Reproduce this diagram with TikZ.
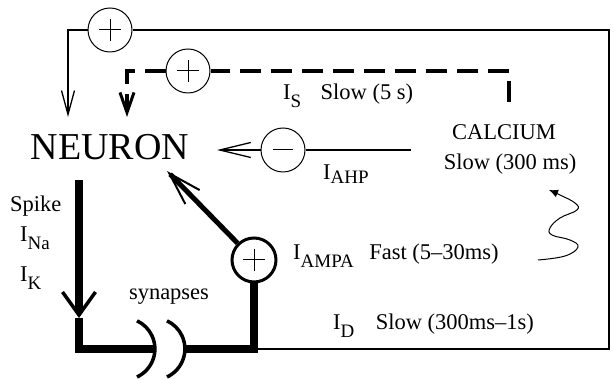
\documentclass[tikz,border=0pt]{standalone}
\usepackage{fontspec}
\setmainfont{Liberation Serif}
\usetikzlibrary{arrows.meta,positioning,calc}

% lowered subscript, as in the figure
\newcommand{\sub}[2][-8pt]{\raisebox{#1}{\fontsize{19}{19}\selectfont #2}}

\begin{document}
\begin{tikzpicture}[
  x=1pt, y=1pt,
  lbl/.style={font=\fontsize{22.5}{26}\selectfont, inner sep=0pt},
  sign/.style={circle, draw, line width=1pt, minimum size=44pt, inner sep=0pt},
  plussign/.style={sign, path picture={
      \draw[line width=1pt] ([xshift=-11pt]path picture bounding box.center) -- ([xshift=11pt]path picture bounding box.center)
        ([yshift=-11pt]path picture bounding box.center) -- ([yshift=11pt]path picture bounding box.center);}},
  minussign/.style={sign, path picture={
      \draw[line width=1pt] ([xshift=-10pt]path picture bounding box.center) -- ([xshift=10pt]path picture bounding box.center);}},
  wire/.style={line width=1.3pt},
  slowdash/.style={line width=4.5pt, dash pattern=on 21pt off 10pt},
  spikeline/.style={line width=8pt},
  ampaline/.style={line width=5pt},
  synarc/.style={line width=3.5pt}
]
  \useasboundingbox (0,0) rectangle (614,380);

  % main node and the signed junctions
  \node[lbl, font=\fontsize{38}{40}\selectfont] (neuron) at (110,233) {NEURON};
  \node[plussign] (fbtop) at (110,350) {};
  \node[plussign] (fbslow) at (188,309) {};
  \node[minussign] (ahp) at (283,230) {};
  \node[plussign, line width=3pt] (ampa) at (254,120) {};

  % corners and free ends
  \coordinate (boxNE) at (609,350);
  \coordinate (boxSE) at (609,31);
  \coordinate (fbcorner) at (68,350);
  \coordinate (fbtip) at (68,263);
  \coordinate (caright) at (509,278);
  \coordinate (cacorner) at (509,309);
  \coordinate (slowcorner) at (127,309);
  \coordinate (slowtip) at (127,263);
  \coordinate (ahpstart) at (411,230);
  \coordinate (ahptip) at (217,230);
  \coordinate (spiketop) at (79,200);
  \coordinate (spiketip) at (79,62);
  \coordinate (spikecorner) at (79,31);
  \coordinate (synL) at (155,31);
  \coordinate (synR) at (185,31);
  \coordinate (ampacorner) at (254,31);
  \coordinate (ampatip) at (167,209);

  % outer feedback loop
  \draw[wire] (ampacorner) -- (boxSE) -- (boxNE) -- (fbtop);
  \draw[wire, -{Straight Barb[length=24pt,width=13pt]}] (fbtop) -- (fbcorner) -- (fbtip);

  % slow calcium feedback
  \draw[slowdash] (caright) -- (cacorner) -- (fbslow);
  \draw[slowdash, -{Straight Barb[length=20pt,width=14pt,line width=3pt]}] (fbslow) -- (slowcorner) -- (slowtip);

  % after-hyperpolarisation
  \draw[wire] (ahpstart) -- (ahp);
  \draw[wire, -{Straight Barb[length=31pt,width=15pt]}] (ahp) -- (ahptip);

  % spike through the synapses
  \draw[spikeline, -{Straight Barb[length=23pt,width=33pt,line width=3.5pt]}] (spiketop) -- (spiketip);
  \draw[spikeline] (spiketip) -- (spikecorner) -- (synL);
  \foreach \dx in {0,30}
    \draw[synarc] ([xshift=\dx]synL) ++(-18,-28) arc[start angle=-65, end angle=65, radius=31];
  \draw[spikeline] (synR) -- (ampacorner) -- (ampa);
  \draw[ampaline, -{Straight Barb[length=33pt,width=20pt,line width=2pt]}] (ampa) -- (ampatip);

  % calcium build-up
  \draw[line width=1pt, -{Latex[length=9pt,width=8pt]}] plot[smooth, tension=0.7] coordinates
    {(538,120) (565,124) (578,133) (570,140) (552,145) (550,152) (560,162) (577,170) (575,177) (560,185) (549,190)};

  % labels
  \node[lbl, anchor=base west] (iS) at (283,280) {I\sub{S}};
  \node[lbl, base right=19pt of iS] (slowS) {Slow (5 s)};
  \node[lbl, anchor=base] (calcium) at (504,240) {CALCIUM};
  \node[lbl, anchor=base] (caslow) at (510,210) {Slow (300 ms)};
  \node[lbl, anchor=base west] (iAHP) at (323,200) {I\sub[-4pt]{AHP}};
  \node[lbl, anchor=base west] (iAMPA) at (293,120) {I\sub{AMPA}};
  \node[lbl, base right=15pt of iAMPA] (fastA) {Fast (5--30ms)};
  \node[lbl, anchor=base west] (iD) at (333,50) {I\sub{D}};
  \node[lbl, base right=21pt of iD] (slowD) {Slow (300ms--1s)};
  \node[lbl, anchor=base west] (spike) at (10,168) {Spike};
  \node[lbl, anchor=base west] (iNa) at (20,138) {I\sub{Na}};
  \node[lbl, anchor=base west] (iK) at (20,98) {I\sub{K}};
  \node[lbl, anchor=base] (synapses) at (169,80) {synapses};
\end{tikzpicture}
\end{document}
